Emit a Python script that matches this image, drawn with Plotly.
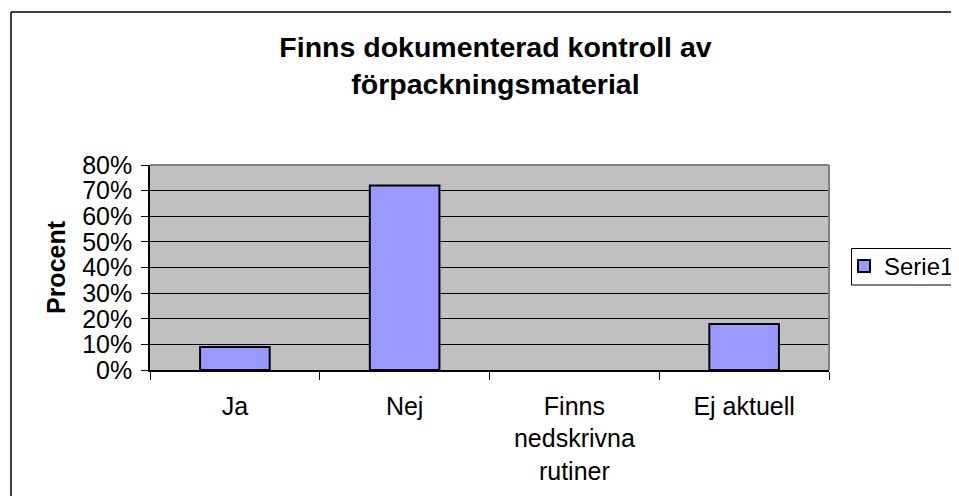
import plotly.graph_objects as go

kategorier = ["Ja", "Nej", "Finns<br>nedskrivna<br>rutiner", "Ej aktuell"]
serie1 = [0.09, 0.72, 0.0, 0.18]
y_ticks = [0, 0.1, 0.2, 0.3, 0.4, 0.5, 0.6, 0.7, 0.8]

# sidan har 8 px marginal i body, så figuren görs mindre för att slippa rullist
OFF = 8
W, H = 959 - OFF, 504 - 2 * OFF
L, R, T, B = 150 - OFF, 829 - OFF, 165 - OFF, 370 - OFF  # ritytan i pixlar


def px_x(p):
    return (p - OFF - L) / (R - L)


def px_y(p):
    return (B - (p - OFF)) / (B - T)


def linje(x0, y0, x1, y1, farg="black", bredd=1.5):
    return dict(type="line", xref="paper", yref="paper",
                x0=px_x(x0), x1=px_x(x1), y0=px_y(y0), y1=px_y(y1),
                line=dict(color=farg, width=bredd))


fonte = "Arial, Liberation Sans, sans-serif"

fig = go.Figure()
fig.add_trace(go.Bar(
    x=kategorier, y=serie1, name="Serie1",
    marker=dict(color="#9999FF",
                line=dict(color="black", width=[2 if v > 0 else 0 for v in serie1])),
))

fig.update_layout(
    width=W, height=H,
    margin=dict(l=L, r=W - R, t=T, b=H - B, autoexpand=False),
    paper_bgcolor="white", plot_bgcolor="#C0C0C0",
    font=dict(family=fonte, size=25, color="black"),
    bargap=0.59,
    title=dict(
        text="<b>Finns dokumenterad kontroll av<br>förpackningsmaterial</b>",
        x=(495.5 - OFF) / W, xanchor="center", xref="container",
        y=1 - 49 / H, yanchor="top", yref="container",
        font=dict(size=28.5, family=fonte),
    ),
    showlegend=True,
    legend=dict(
        x=px_x(844), y=px_y(266.5), xanchor="left", yanchor="middle",
        bgcolor="rgba(0,0,0,0)", borderwidth=0, font=dict(size=24),
    ),
    shapes=[
        # yttre ram (vänster och topp, resten utanför bilden)
        linje(11, 12, 11, 600),
        linje(11, 12, 1000, 12),
        # ram runt förklaringen
        linje(851.5, 248.5, 1000, 248.5, bredd=1),
        linje(851.5, 285, 1000, 285, bredd=1),
        linje(851.5, 248.5, 851.5, 285, bredd=1),
        # grå ram runt ritytan (topp och höger)
        linje(150, 165, 829, 165, farg="#808080", bredd=2),
        linje(829, 165, 829, 370, farg="#808080", bredd=2),
    ],
)

fig.update_xaxes(
    showline=True, linecolor="black", linewidth=1.5,
    ticks="outside", tickson="boundaries", ticklen=8, tickcolor="black",
    showgrid=False, tickfont=dict(size=25),
    ticklabelstandoff=13,
)
fig.update_yaxes(
    range=[0, 0.8], tickvals=y_ticks, tickformat=".0%",
    showline=True, linecolor="black", linewidth=1.5,
    ticks="outside", ticklen=7, tickcolor="black",
    showgrid=True, gridcolor="black", gridwidth=1, zeroline=False,
    tickfont=dict(size=25), ticklabelstandoff=4,
    title=dict(text="<b>Procent</b>", font=dict(size=25), standoff=9),
)

fig.write_html("out.html")
